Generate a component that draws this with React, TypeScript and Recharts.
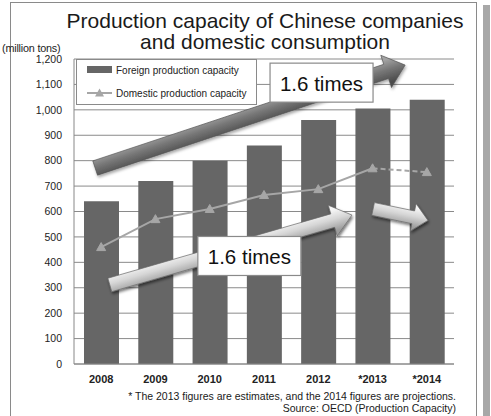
import React from 'react';
import {
  ComposedChart,
  Bar,
  Line,
  XAxis,
  YAxis,
  CartesianGrid,
  ReferenceLine,
  ReferenceDot,
} from 'recharts';

const categories = ['2008', '2009', '2010', '2011', '2012', '*2013', '*2014'];
const foreignCapacity = [640, 720, 800, 860, 960, 1005, 1040];
const domesticCapacity = [460, 570, 610, 665, 688, 770, 755];
const yTicks = [0, 100, 200, 300, 400, 500, 600, 700, 800, 900, 1000, 1100, 1200];
const lastActualIndex = 5;

// annotation anchors in data units (x: category position 0..7, y: million tons)
const bigArrow = [{ x: 0.39, y: 771 }, { x: 6.1, y: 1176 }];
const lowArrow = [{ x: 0.66, y: 311 }, { x: 5.12, y: 586 }];
const smallArrow = [{ x: 5.51, y: 610 }, { x: 6.52, y: 565 }];
const topBadge = { x: 4.56, y: 1107, label: '1.6 times' };
const lowBadge = { x: 3.23, y: 425, label: '1.6 times' };

const chartData = categories.map((c, i) => ({
  year: c,
  pos: i + 0.5,
  foreign: foreignCapacity[i],
  domesticSolid: i <= lastActualIndex ? domesticCapacity[i] : null,
  domesticDashed: i >= lastActualIndex ? domesticCapacity[i] : null,
}));

const FONT = '"Liberation Sans", Arial, sans-serif';
const BAR_COLOR = '#666666';
const LINE_COLOR = '#a6a6a6';
const GRID_COLOR = '#8a8a8a';

function makeArrow(id: string, w: number, hw: number, hl: number, stops: string[], light: boolean) {
  return (props: any) => {
    const { x1, y1, x2, y2 } = props;
    if ([x1, y1, x2, y2].some((v) => typeof v !== 'number' || isNaN(v))) return <g />;
    const dx = x2 - x1;
    const dy = y2 - y1;
    const L = Math.hypot(dx, dy);
    const ux = dx / L;
    const uy = dy / L;
    const nx = uy;
    const ny = -ux;
    const nkx = x2 - ux * hl;
    const nky = y2 - uy * hl;
    const pts = [
      [x1 + nx * w / 2, y1 + ny * w / 2],
      [nkx + nx * w / 2, nky + ny * w / 2],
      [nkx + nx * hw / 2, nky + ny * hw / 2],
      [x2, y2],
      [nkx - nx * hw / 2, nky - ny * hw / 2],
      [nkx - nx * w / 2, nky - ny * w / 2],
      [x1 - nx * w / 2, y1 - ny * w / 2],
    ];
    const span = w * 0.75;
    const mx = (x1 + x2) / 2;
    const my = (y1 + y2) / 2;
    return (
      <g>
        <defs>
          <linearGradient
            id={id + '-grad'}
            gradientUnits="userSpaceOnUse"
            x1={mx + nx * span}
            y1={my + ny * span}
            x2={mx - nx * span}
            y2={my - ny * span}
          >
            <stop offset="0%" stopColor={stops[0]} />
            <stop offset="45%" stopColor={stops[1]} />
            <stop offset="100%" stopColor={stops[2]} />
          </linearGradient>
          <filter id={id + '-shadow'} x="-20%" y="-50%" width="140%" height="200%">
            <feDropShadow dx="1" dy="2" stdDeviation="1.5" floodColor="#000" floodOpacity={light ? 0.55 : 0.35} />
          </filter>
        </defs>
        <polygon
          points={pts.map((p) => p.join(',')).join(' ')}
          fill={`url(#${id}-grad)`}
          stroke={light ? '#6a6a6a' : '#555'}
          strokeWidth={0.7}
          filter={`url(#${id}-shadow)`}
        />
      </g>
    );
  };
}

const BigArrowShape = makeArrow('big', 15, 34, 20, ['#a2a2a2', '#767676', '#4c4c4c'], false);
const LowArrowShape = makeArrow('low', 14, 32, 20, ['#f6f6f6', '#d6d6d6', '#9c9c9c'], true);
const SmallArrowShape = makeArrow('small', 13, 28, 15, ['#f6f6f6', '#d6d6d6', '#9c9c9c'], true);

function makeBadge(label: string) {
  return (props: any) => {
    const { cx, cy } = props;
    if (typeof cx !== 'number' || typeof cy !== 'number') return <g />;
    return (
      <g>
        <rect x={cx - 51.5} y={cy - 19.5} width={103} height={39} fill="#fff" stroke="#8a8a8a" strokeWidth={1.2} />
        <text
          x={cx}
          y={cy + 1}
          textAnchor="middle"
          dominantBaseline="central"
          fontSize={20.5}
          fontFamily={FONT}
          fill="#111"
        >
          {label}
        </text>
      </g>
    );
  };
}

const Triangle = (props: any) => {
  const { cx, cy, index, onlyIndex } = props;
  if (typeof cx !== 'number' || typeof cy !== 'number' || isNaN(cy)) return <g key={'t' + index} />;
  if (onlyIndex !== undefined && index !== onlyIndex) return <g key={'t' + index} />;
  return (
    <polygon
      key={'t' + index}
      points={`${cx},${cy - 4.5} ${cx + 4.5},${cy + 3.5} ${cx - 4.5},${cy + 3.5}`}
      fill={LINE_COLOR}
      stroke={LINE_COLOR}
    />
  );
};

export default function App() {
  return (
    <div
      style={{
        position: 'absolute',
        left: 0,
        top: 0,
        width: 491,
        height: 416,
        background: '#fff',
        fontFamily: FONT,
        overflow: 'hidden',
      }}
    >
      {/* frame */}
      <div
        style={{
          position: 'absolute',
          left: 10,
          top: 2,
          width: 467,
          height: 430,
          border: '1px solid #8a8a8a',
          boxSizing: 'border-box',
        }}
      />
      <div style={{ position: 'absolute', left: 483, top: 5, width: 7, height: 411, background: '#a8a8a8' }} />

      {/* title */}
      <div
        style={{
          position: 'absolute',
          left: 0,
          top: 10,
          width: 530,
          textAlign: 'center',
          fontSize: 21,
          lineHeight: '21px',
          color: '#1a1a1a',
        }}
      >
        Production capacity of Chinese companies
        <br />
        and domestic consumption
      </div>
      <div style={{ position: 'absolute', left: 2, top: 42, fontSize: 10.8, lineHeight: '13px', color: '#222', letterSpacing: -0.2 }}>
        (million tons)
      </div>

      <div style={{ position: 'absolute', left: 0, top: 0 }}>
        <ComposedChart
          width={491}
          height={416}
          data={chartData}
          margin={{ top: 59, right: 37, bottom: 22, left: 0 }}
        >
          <CartesianGrid vertical={false} stroke={GRID_COLOR} strokeWidth={1} />
          <XAxis
            dataKey="year"
            height={30}
            tickLine={false}
            tickSize={0}
            tickMargin={11}
            axisLine={{ stroke: '#888' }}
            tick={{ fill: '#222', fontSize: 11, fontFamily: FONT, fontWeight: 'bold' }}
            interval={0}
          />
          <XAxis xAxisId="pos" dataKey="pos" type="number" domain={[0, 7]} allowDataOverflow hide />
          <YAxis
            width={74}
            domain={[0, 1200]}
            ticks={yTicks}
            interval={0}
            tickLine={false}
            tickSize={0}
            tickMargin={12}
            axisLine={{ stroke: '#888' }}
            tickFormatter={(v: number) => v.toLocaleString('en-US')}
            tick={{ fill: '#222', fontSize: 10.5, fontFamily: FONT }}
          />
          <Bar dataKey="foreign" fill={BAR_COLOR} barSize={35} isAnimationActive={false} />
          <Line
            dataKey="domesticSolid"
            stroke={LINE_COLOR}
            strokeWidth={2}
            dot={(p: any) => <Triangle {...p} />}
            activeDot={false}
            connectNulls={false}
            isAnimationActive={false}
          />
          <Line
            dataKey="domesticDashed"
            stroke={LINE_COLOR}
            strokeWidth={2}
            strokeDasharray="5 3"
            dot={(p: any) => <Triangle {...p} onlyIndex={6} />}
            activeDot={false}
            connectNulls={false}
            isAnimationActive={false}
          />
          <ReferenceLine xAxisId="pos" segment={bigArrow} ifOverflow="visible" shape={BigArrowShape} />
          <ReferenceLine xAxisId="pos" segment={lowArrow} ifOverflow="visible" shape={LowArrowShape} />
          <ReferenceLine xAxisId="pos" segment={smallArrow} ifOverflow="visible" shape={SmallArrowShape} />
          <ReferenceDot xAxisId="pos" x={topBadge.x} y={topBadge.y} ifOverflow="visible" shape={makeBadge(topBadge.label)} />
          <ReferenceDot xAxisId="pos" x={lowBadge.x} y={lowBadge.y} ifOverflow="visible" shape={makeBadge(lowBadge.label)} />
        </ComposedChart>
      </div>

      {/* legend */}
      <div
        style={{
          position: 'absolute',
          left: 76,
          top: 59,
          width: 181,
          height: 46,
          background: '#fff',
          border: '1px solid #8a8a8a',
          boxSizing: 'border-box',
          fontSize: 10.2,
          color: '#222',
        }}
      >
        <svg width={181} height={46} style={{ position: 'absolute', left: -1, top: -1 }}>
          <rect x={11} y={7} width={25} height={7} fill={BAR_COLOR} />
          <line x1={11} y1={34} x2={36} y2={34} stroke={LINE_COLOR} strokeWidth={2} />
          <polygon points="23.5,29.5 28,37.5 19,37.5" fill={LINE_COLOR} />
          <text x={40} y={14.5} fontSize={10} fontFamily={FONT} fill="#222">Foreign production capacity</text>
          <text x={40} y={37.5} fontSize={10} fontFamily={FONT} fill="#222">Domestic production capacity</text>
        </svg>
      </div>

      {/* footnotes */}
      <div
        style={{
          position: 'absolute',
          right: 491 - 456,
          top: 391,
          textAlign: 'right',
          fontSize: 10.5,
          lineHeight: '11.5px',
          color: '#1a1a1a',
          whiteSpace: 'nowrap',
        }}
      >
        * The 2013 figures are estimates, and the 2014 figures are projections.
        <br />
        Source: OECD (Production Capacity)
      </div>
    </div>
  );
}
